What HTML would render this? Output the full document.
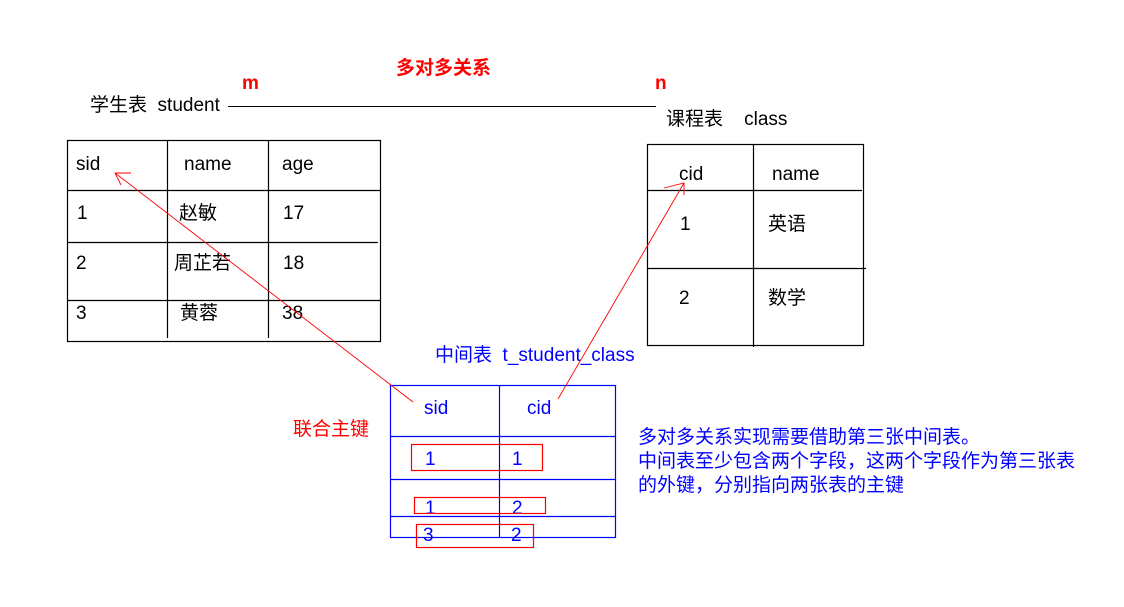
<!DOCTYPE html>
<html><head><meta charset="utf-8"><style>
body{margin:0;background:#fff;width:1124px;height:602px;overflow:hidden}
svg text{font-family:"Liberation Sans","Noto Sans CJK SC",sans-serif;font-size:19px;white-space:pre}
</style></head><body>
<svg width="1124" height="602" xmlns="http://www.w3.org/2000/svg">
<text x="396" y="74" font-weight="bold" fill="#f00">多对多关系</text>
<text x="242" y="89" font-weight="bold" fill="#f00">m</text>
<text x="655" y="89" font-weight="bold" fill="#f00">n</text>
<text x="90" y="111">学生表  student</text>
<line x1="228" y1="106.5" x2="656" y2="106.5" stroke="#000"/>
<text x="666" y="125">课程表    class</text>
<g stroke="#000" fill="none" stroke-width="1.2">
<rect x="67.5" y="140.5" width="313" height="201"/>
<line x1="167.5" y1="140" x2="167.5" y2="338"/>
<line x1="268.5" y1="140" x2="268.5" y2="338"/>
<line x1="67" y1="190.5" x2="380" y2="190.5"/>
<line x1="67" y1="242.5" x2="378" y2="242.5"/>
<line x1="67" y1="300.5" x2="380" y2="300.5"/>
</g>
<text x="76" y="170">sid</text><text x="184" y="170">name</text><text x="282" y="170">age</text>
<text x="77" y="219">1</text><text x="179" y="219">赵敏</text><text x="283" y="219">17</text>
<text x="76" y="269">2</text><text x="174" y="269">周芷若</text><text x="283" y="269">18</text>
<text x="76" y="319">3</text><text x="180" y="319">黄蓉</text><text x="282" y="319">38</text>
<g stroke="#000" fill="none" stroke-width="1.2">
<rect x="647.5" y="144.5" width="216" height="201"/>
<line x1="753.5" y1="144" x2="753.5" y2="347"/>
<line x1="647" y1="190.5" x2="862" y2="190.5"/>
<line x1="647" y1="268.5" x2="866" y2="268.5"/>
</g>
<text x="679" y="180">cid</text><text x="772" y="180">name</text>
<text x="680" y="230">1</text><text x="768" y="230">英语</text>
<text x="679" y="304">2</text><text x="768" y="304">数学</text>
<text x="435" y="361" fill="#00f">中间表  t_student_class</text>
<g stroke="#00f" fill="none" stroke-width="1.2">
<rect x="390.5" y="385.5" width="225" height="152"/>
<line x1="499.5" y1="385" x2="499.5" y2="538"/>
<line x1="390" y1="436.5" x2="615" y2="436.5"/>
<line x1="390" y1="479.5" x2="615" y2="479.5"/>
<line x1="390" y1="516.5" x2="615" y2="516.5"/>
</g>
<text x="424" y="414" fill="#00f">sid</text><text x="527" y="414" fill="#00f">cid</text>
<text x="425" y="465" fill="#00f">1</text><text x="512" y="465" fill="#00f">1</text>
<text x="425" y="514" fill="#00f">1</text><text x="512" y="514" fill="#00f">2</text>
<text x="423" y="541" fill="#00f">3</text><text x="511" y="541" fill="#00f">2</text>
<g stroke="#f00" fill="none" stroke-width="1.2">
<rect x="411.5" y="444.5" width="131" height="26"/>
<rect x="414.5" y="497.5" width="131" height="16"/>
<rect x="416.5" y="524.5" width="117" height="23"/>
<line x1="413" y1="402" x2="115" y2="173" stroke-width="0.9"/>
<polyline points="131,173 115,173 121,185" stroke-width="0.9"/>
<line x1="558" y1="399" x2="684" y2="183" stroke-width="0.9"/>
<polyline points="664,188 684,183 684,195" stroke-width="0.9"/>
</g>
<text x="293" y="435" fill="#f00">联合主键</text>
<text x="638" y="443" fill="#00f">多对多关系实现需要借助第三张中间表。</text>
<text x="638" y="467" fill="#00f">中间表至少包含两个字段，这两个字段作为第三张表</text>
<text x="638" y="491" fill="#00f">的外键，分别指向两张表的主键</text>
</svg>
</body></html>
